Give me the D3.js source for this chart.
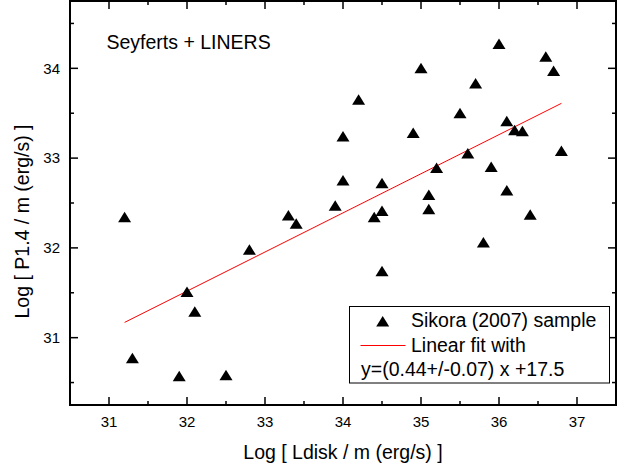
<!DOCTYPE html>
<html><head><meta charset="utf-8">
<script src="https://cdn.jsdelivr.net/npm/d3@7"></script>
<style>body{margin:0;background:#fff}svg{display:block}text{font-family:"Liberation Sans",Arial,sans-serif;fill:#000}</style>
</head><body>
<script>
const ldisk = [31.2,31.3,31.9,32.0,32.1,32.5,32.8,33.3,33.4,33.9,34.0,34.0,34.2,34.4,34.5,34.5,34.5,34.9,35.0,35.1,35.1,35.2,35.5,35.6,35.7,35.8,35.9,36.0,36.1,36.1,36.2,36.3,36.4,36.6,36.7,36.8];
const p14   = [32.34,30.77,30.57,31.51,31.29,30.58,31.98,32.36,32.27,32.47,33.24,32.75,33.65,32.34,32.72,32.41,31.74,33.28,34.0,32.59,32.43,32.89,33.50,33.05,33.83,32.06,32.90,34.27,33.41,32.64,33.31,33.30,32.37,34.13,33.97,33.08];
const fitX = [31.2, 36.8];
const fitY = [31.17, 33.61];
const xTicks = [31,32,33,34,35,36,37];
const yTicks = [31,32,33,34];
const xMinor = [30.5,31.5,32.5,33.5,34.5,35.5,36.5,37.5];
const yMinor = [30.5,31.5,32.5,33.5,34.5];
const legendLabels = ["Sikora (2007) sample","Linear fit with","y=(0.44+/-0.07) x +17.5"];

const W=624,H=472, L=70,R=616,T=1,B=405;
const svg=d3.select("body").append("svg").attr("width",W).attr("height",H);
const x=d3.scaleLinear().domain([30.5,37.5]).range([L,R]);
const y=d3.scaleLinear().domain([30.25,34.75]).range([B,T]);

// ticks inward on all four sides
const g=svg.append("g").attr("stroke","#000").attr("stroke-width",1.5);
function vt(v,len){ g.append("line").attr("x1",x(v)).attr("x2",x(v)).attr("y1",B).attr("y2",B-len);
  g.append("line").attr("x1",x(v)).attr("x2",x(v)).attr("y1",T).attr("y2",T+len); }
function ht(v,len){ g.append("line").attr("y1",y(v)).attr("y2",y(v)).attr("x1",L).attr("x2",L+len);
  g.append("line").attr("y1",y(v)).attr("y2",y(v)).attr("x1",R).attr("x2",R-len); }
xTicks.forEach(v=>vt(v,8)); xMinor.forEach(v=>vt(v,4));
yTicks.forEach(v=>ht(v,8)); yMinor.forEach(v=>ht(v,4));

svg.append("rect").attr("x",L).attr("y",T).attr("width",R-L).attr("height",B-T)
  .attr("fill","none").attr("stroke","#000").attr("stroke-width",2);

svg.selectAll(".xl").data(xTicks).enter().append("text").attr("x",d=>x(d)).attr("y",427)
  .attr("text-anchor","middle").attr("font-size",15).text(d=>d);
svg.selectAll(".yl").data(yTicks).enter().append("text").attr("x",60).attr("y",d=>y(d)+5.3)
  .attr("text-anchor","end").attr("font-size",15).text(d=>d);

svg.append("text").attr("x",(L+R)/2).attr("y",459).attr("text-anchor","middle").attr("font-size",19.5)
  .text("Log [ Ldisk / m (erg/s) ]");
svg.append("text").attr("transform","translate(29,221.5) rotate(-90)").attr("text-anchor","middle").attr("font-size",19.5)
  .text("Log [ P1.4 / m (erg/s) ]");
svg.append("text").attr("x",106.5).attr("y",49.3).attr("font-size",19.5).text("Seyferts + LINERS");

// fit line
svg.append("line").attr("x1",x(fitX[0])).attr("y1",y(fitY[0])).attr("x2",x(fitX[1])).attr("y2",y(fitY[1]))
  .attr("stroke","#ff0000").attr("stroke-width",1);

const tri="M0,-5.5L6.5,5L-6.5,5Z";
svg.selectAll(".pt").data(ldisk).enter().append("path").attr("d",tri)
  .attr("transform",(d,i)=>`translate(${x(d)},${y(p14[i])})`).attr("fill","#000");

// legend
const lg=svg.append("g");
lg.append("rect").attr("x",349.5).attr("y",306.5).attr("width",260).attr("height",76.5)
  .attr("fill","#fff").attr("stroke","#000").attr("stroke-width",1);
lg.append("path").attr("d",tri).attr("transform","translate(382.7,321.5)").attr("fill","#000");
lg.append("line").attr("x1",360.5).attr("x2",405.5).attr("y1",345.5).attr("y2",345.5).attr("stroke","#ff0000").attr("stroke-width",1);
lg.append("text").attr("x",411).attr("y",327.3).attr("font-size",19.5).text(legendLabels[0]);
lg.append("text").attr("x",411).attr("y",352.3).attr("font-size",19.5).text(legendLabels[1]);
lg.append("text").attr("x",361).attr("y",376.3).attr("font-size",19.5).text(legendLabels[2]);
</script>
</body></html>
